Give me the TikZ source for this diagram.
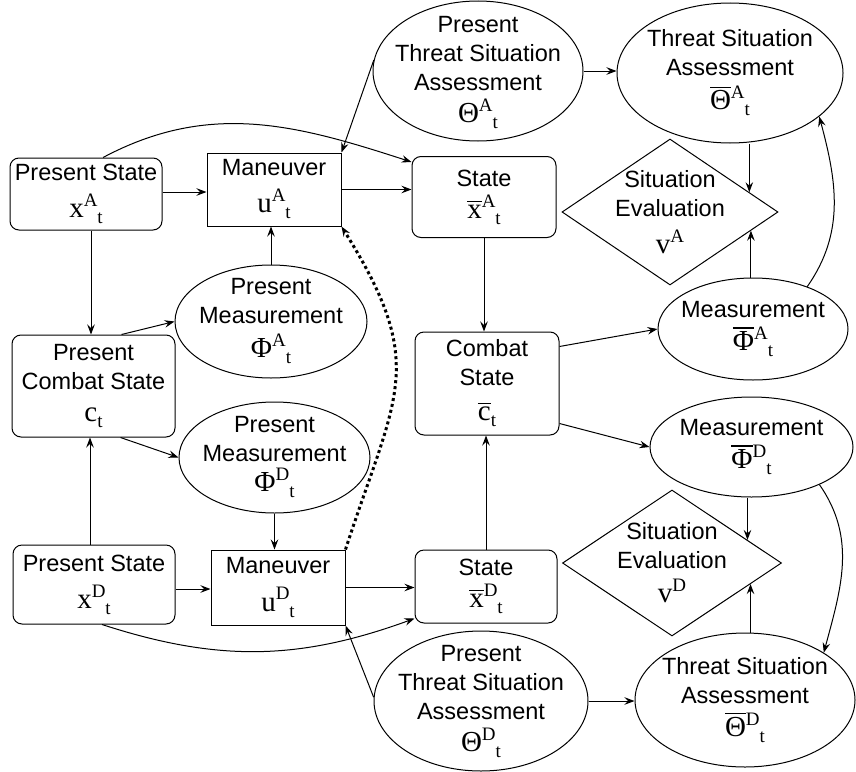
\documentclass[tikz,border=0pt]{standalone}
\usepackage{fontspec}
\setmainfont{Liberation Sans}
\newfontfamily\serif{Liberation Serif}
\usetikzlibrary{shapes.geometric,arrows.meta}
\newsavebox\ovlbox
\newcommand{\ovl}[1]{\sbox\ovlbox{#1}\rlap{\raisebox{\dimexpr\ht\ovlbox+3pt\relax}{\rule{\wd\ovlbox}{1.1pt}}}\usebox\ovlbox}
\newcommand{\mysym}[3]{{\serif\fontsize{29}{30}\selectfont #1}{\serif\fontsize{19}{20}\selectfont\raisebox{11pt}{#2}\raisebox{-6pt}{#3}}}
\begin{document}
\begin{tikzpicture}[x=1pt,y=1pt,
  every node/.style={font=\fontsize{23.5}{29}\selectfont, inner sep=0pt, align=center},
  box/.style={draw, line width=1pt, rectangle},
  rbox/.style={box, rounded corners=9pt},
  ell/.style={draw, line width=1pt, ellipse},
  dia/.style={draw, line width=1pt, diamond},
  arr/.style={line width=1pt, -{Stealth[length=10pt,width=7.5pt,inset=3.5pt]}},
  dots/.style={line width=3pt, dash pattern=on 3pt off 3pt, -{Stealth[length=10pt,width=7.5pt,inset=3.5pt,line width=1pt]}}
]
\useasboundingbox (0,0) rectangle (856,-771);

% shapes
\node[rbox, minimum width=152pt, minimum height=72pt] (psA) at (86,-194) {Present State\\[8pt]\mysym{x}{A}{t}};
\node[box, minimum width=134pt, minimum height=73pt] (manA) at (274,-189.5) {Maneuver\\[8pt]\mysym{u}{A}{t}};
\node[rbox, minimum width=144pt, minimum height=81pt] (stA) at (484,-197) {State\\[3pt]\mysym{\ovl{x}}{A}{t}};
\node[ell, minimum width=210pt, minimum height=140pt] (ptA) at (478,-71) {};
\node[ell, minimum width=226pt, minimum height=140pt] (tA) at (730,-73) {};
\node[dia, minimum width=216pt, minimum height=146pt] (seA) at (670,-212) {};
\node[ell, minimum width=192pt, minimum height=113pt] (pmA) at (271,-321.5) {};
\node[rbox, minimum width=163pt, minimum height=102pt] (cs) at (93.5,-386) {Present\\Combat State\\[3pt]\mysym{c}{}{t}};
\node[ell, minimum width=191pt, minimum height=111pt] (pmD) at (274.5,-457.5) {};
\node[rbox, minimum width=162pt, minimum height=79pt] (psD) at (94,-584.5) {Present State\\[8pt]\mysym{x}{D}{t}};
\node[box, minimum width=134pt, minimum height=75pt] (manD) at (278,-587.5) {Maneuver\\[8pt]\mysym{u}{D}{t}};
\node[rbox, minimum width=142pt, minimum height=73pt] (stD) at (486,-586.5) {State\\[3pt]\mysym{\ovl{x}}{D}{t}};
\node[rbox, minimum width=144pt, minimum height=103pt] (csb) at (487,-383.5) {Combat\\State\\[6pt]\mysym{\ovl{c}}{}{t}};
\node[ell, minimum width=190pt, minimum height=102pt] (mA) at (753,-329) {};
\node[ell, minimum width=203pt, minimum height=100pt] (mD) at (751.5,-447) {};
\node[dia, minimum width=219pt, minimum height=146pt] (seD) at (672,-563) {};
\node[ell, minimum width=214pt, minimum height=140pt] (ptD) at (481,-701) {};
\node[ell, minimum width=220pt, minimum height=134pt] (tD) at (745,-700) {};

% labels inside ellipses and diamonds
\node (ptAl) at ([yshift=-2pt]ptA) {Present\\Threat Situation\\Assessment\\[3pt]\mysym{Θ}{A}{t}};
\node (tAl) at (tA) {Threat Situation\\Assessment\\[5pt]\mysym{\ovl{Θ}}{A}{t}};
\node (seAl) at ([yshift=-3pt]seA) {Situation\\Evaluation\\[8pt]\mysym{v}{A}{}};
\node (pmAl) at (pmA) {Present\\Measurement\\[5pt]\mysym{Φ}{A}{t}};
\node (pmDl) at (pmD) {Present\\Measurement\\[1pt]\mysym{Φ}{D}{t}};
\node (mAl) at (mA) {Measurement\\[4pt]\mysym{\ovl{Φ}}{A}{t}};
\node (mDl) at (mD) {Measurement\\[4pt]\mysym{\ovl{Φ}}{D}{t}};
\node (seDl) at ([yshift=-2pt]seD) {Situation\\Evaluation\\[5pt]\mysym{v}{D}{}};
\node (ptDl) at (ptD) {Present\\Threat Situation\\Assessment\\[3pt]\mysym{Θ}{D}{t}};
\node (tDl) at (tD) {Threat Situation\\Assessment\\[4pt]\mysym{\ovl{Θ}}{D}{t}};

% connectors, top half
\draw[arr] ([yshift=2pt]psA.east) -- ([yshift=2pt]psA.east -| manA.west);
\draw[arr] (manA.east) -- (manA.east -| stA.west);
\draw[arr] ([xshift=17pt]psA.north) to[out=28,in=162] ([yshift=-6pt]stA.north west);
\draw[arr] (ptA.174) -- (manA.north east);
\draw[arr] (ptA.east) -- (ptA.east -| tA.west);
\draw[arr] (seA.14.6 |- tA.south) -- (seA.14.6);
\draw[arr] (seA.-13.9 |- mA.north) -- (seA.-13.9);
\draw[arr] (mA.38) to[out=55,in=-75] (tA.-26);
\draw[arr] (stA.south) -- (stA.south |- csb.north);
\draw[arr] ([yshift=37pt]csb.east) -- (mA.west);
\draw[arr] ([yshift=-40pt]csb.east) -- (mD.west);
\draw[arr] (stD.north) -- (stD.north |- csb.south);

% connectors, bottom half
\draw[arr] (seD.17 |- mD.south) -- (seD.17);
\draw[arr] (seD.-15.1 |- tD.north) -- (seD.-15.1);
\draw[arr] (mD.-29) to[out=-55,in=75] (tD.31);
\draw[arr] (ptD.east) -- (ptD.east -| tD.west);
\draw[arr] (ptD.178) -- (manD.south east);
\draw[arr] ([yshift=-4.5pt]psD.east) -- ([yshift=-4.5pt]psD.east -| manD.west);
\draw[arr] (manD.east) -- (manD.east -| stD.west);
\draw[arr] ([xshift=8pt]psD.south) to[out=-18,in=200] ([yshift=5pt]stD.south west);
\draw[dots] (manD.north east) to[out=72,in=-58,looseness=1.3] (manA.south east);

% left column
\draw[arr] ([xshift=5pt]psA.south) -- ([xshift=5pt]psA.south |- cs.north);
\draw[arr] ([xshift=-4pt]psD.north) -- ([xshift=-4pt]psD.north |- cs.south);
\draw[arr] ([xshift=28pt]cs.north) -- (pmA.west);
\draw[arr] ([xshift=27pt]cs.south) -- (pmD.west);
\draw[arr] (pmA.north) -- (pmA.north |- manA.south);
\draw[arr] (pmD.south) -- (pmD.south |- manD.north);
\end{tikzpicture}
\end{document}
